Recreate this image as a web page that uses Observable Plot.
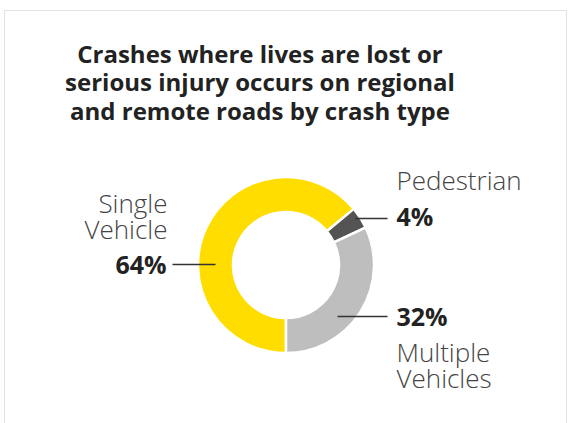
<!DOCTYPE html>
<html>
<head>
<meta charset="utf-8">
<script src="https://cdn.jsdelivr.net/npm/d3@7"></script>
<script src="https://cdn.jsdelivr.net/npm/@observablehq/plot@0.6"></script>
<style>
  html, body { margin: 0; padding: 0; background: #fff; }
  #wrap { position: relative; width: 568px; height: 423px; overflow: hidden; }
  #frame { position: absolute; left: 4px; top: 10px; width: 563px; height: 460px;
           border: 1.5px solid #e2e2e2; box-sizing: border-box; }
  #title { position: absolute; left: 0; top: 39.5px; width: 520px; text-align: center;
           font-family: "Open Sans", sans-serif; font-weight: 700; font-size: 24px;
           line-height: 28.5px; color: #222; }
  #chart { position: absolute; left: 0; top: 130px; }
</style>
</head>
<body>
<div id="wrap">
  <div id="frame"></div>
  <div id="title">Crashes where lives are lost or<br>serious injury occurs on regional<br>and remote roads by crash type</div>
  <div id="chart"></div>
</div>
<script>
// ---- data ----
const categories = ["Single Vehicle", "Pedestrian", "Multiple Vehicles"];
const shares = [64, 4, 32];
const nameLabels = ["Single\nVehicle", "Pedestrian", "Multiple\nVehicles"];

const data = categories.map((c, i) => ({category: c, share: shares[i], pct: `${shares[i]}%`}));
// one record per label line
const nameLines = categories.flatMap((c, i) => {
  const lines = nameLabels[i].split("\n");
  return lines.map((t, j) => ({category: c, text: t, fromBottom: lines.length - 1 - j}));
});

// ---- layout (page pixel coordinates) ----
const center = {x: 286, y: 265}, rOuter = 88, rInner = 53, lineStep = 25.5;
const layout = {
  "Single Vehicle":    {anchor: "end",   nameX: 167, nameY: 238, pctX: 166, pctY: 273, lx1: 172, lx2: 215, ly: 264},
  "Pedestrian":        {anchor: "start", nameX: 396, nameY: 189, pctX: 396, pctY: 225, lx1: 355, lx2: 387, ly: 218},
  "Multiple Vehicles": {anchor: "start", nameX: 396, nameY: 387, pctX: 396, pctY: 325, lx1: 337, lx2: 387, ly: 316}
};

const arcs = d3.pie().value(d => d.share).sort(null).startAngle(Math.PI).endAngle(3 * Math.PI)(data);

function donut(index, scales) {
  const cx = scales.x(center.x), cy = scales.y(center.y);
  const ro = scales.x(center.x + rOuter) - cx;
  const ri = scales.x(center.x + rInner) - cx;
  const arc = d3.arc().innerRadius(ri).outerRadius(ro);
  const g = d3.create("svg:g").attr("transform", `translate(${cx},${cy})`);
  g.selectAll("path").data(arcs).join("path")
    .attr("d", arc)
    .attr("fill", d => scales.color(d.data.category))
    .attr("stroke", "#fff")
    .attr("stroke-width", 2.5)
    .attr("stroke-linejoin", "miter");
  return g.node();
}

const L = d => layout[d.category];
const nameStyle = {fontFamily: "Open Sans", fontWeight: 300, fontSize: 26, fill: "#444", lineAnchor: "bottom"};
const pctStyle = {fontFamily: "Open Sans", fontWeight: 700, fontSize: 25, fill: "#222", lineAnchor: "bottom"};
const isEnd = d => L(d).anchor === "end";
const isStart = d => L(d).anchor === "start";

const chart = Plot.plot({
  width: 568, height: 293,
  margin: 0,
  x: {domain: [0, 568], range: [0, 568], axis: null},
  y: {domain: [130, 423], range: [0, 293], axis: null},
  color: {domain: categories, range: ["#FFDD00", "#545454", "#BEBEBE"]},
  style: {background: "transparent", overflow: "visible"},
  marks: [
    donut,
    Plot.link(data, {x1: d => L(d).lx1, x2: d => L(d).lx2, y1: d => L(d).ly, y2: d => L(d).ly, stroke: "#333", strokeWidth: 1.5}),
    Plot.text(nameLines, {filter: isEnd, x: d => L(d).nameX, y: d => L(d).nameY - d.fromBottom * lineStep, text: "text", textAnchor: "end", ...nameStyle}),
    Plot.text(nameLines, {filter: isStart, x: d => L(d).nameX, y: d => L(d).nameY - d.fromBottom * lineStep, text: "text", textAnchor: "start", ...nameStyle}),
    Plot.text(data, {filter: isEnd, x: d => L(d).pctX, y: d => L(d).pctY, text: "pct", textAnchor: "end", ...pctStyle}),
    Plot.text(data, {filter: isStart, x: d => L(d).pctX, y: d => L(d).pctY, text: "pct", textAnchor: "start", ...pctStyle})
  ]
});
document.getElementById("chart").appendChild(chart);
</script>
</body>
</html>
